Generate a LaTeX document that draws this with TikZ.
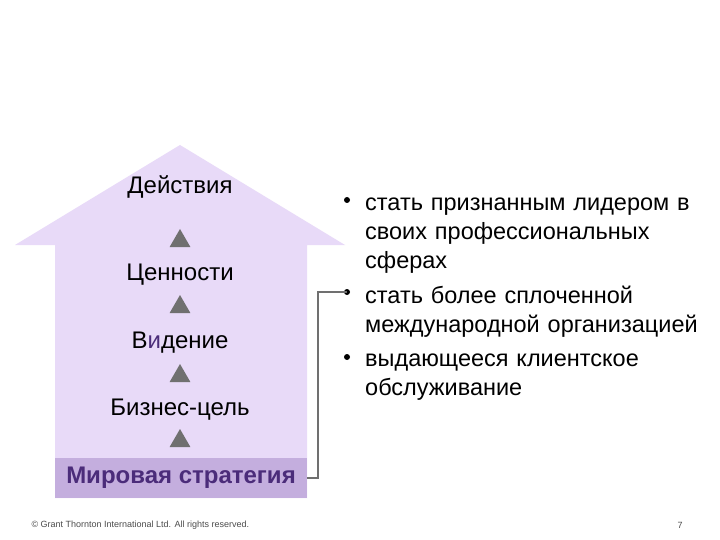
\documentclass[tikz,border=0pt]{standalone}
\usepackage{fontspec}
\usetikzlibrary{shapes.geometric}
\setmainfont{Liberation Sans}
\definecolor{house}{HTML}{E8DAF8}
\definecolor{bar}{HTML}{C4AEDE}
\definecolor{bartext}{HTML}{4B2C7A}
\definecolor{tricol}{HTML}{707070}
\begin{document}
\begin{tikzpicture}[x=1pt,y=-1pt,
  lbl/.style={font=\fontsize{24}{26}\selectfont,anchor=center},
  trimark/.style={fill=tricol,regular polygon,regular polygon sides=3,inner sep=0pt,minimum size=24pt},
  btext/.style={font=\fontsize{23.5}{29}\selectfont,anchor=base west,align=left,text width=360pt,inner sep=0pt}]
\useasboundingbox (0,0) rectangle (720,540);
\fill[white] (0,0) rectangle (720,540);
\fill[house] (180,145) -- (345,245) -- (307,245) -- (307,498) -- (55,498) -- (55,245) -- (15,245) -- cycle;
\node[fill=bar,minimum width=252pt,minimum height=40pt,inner sep=0pt] (bar) at (181,478) {};
\node[lbl,font=\bfseries\fontsize{24}{26}\selectfont,text=bartext] (mir) at (181,478) {Мировая стратегия};
\node[lbl] (d) at (180,187) {Действия};
\node[lbl] (c) at (180,275) {Ценности};
\node[lbl] (v) at (180,343) {В\textcolor{bartext}{и}дение};
\node[lbl] (b) at (180,410) {Бизнес-цель};
\foreach \y/\n in {241/m1,307/m2,376/m3,441/m4} \node[trimark] (\n) at (180,\y) {};
\fill (347,200) circle (3);
\fill (347,357) circle (3);
\coordinate (bul) at (347,292);
\fill (bul) circle (3);
\draw[tricol,line width=1.2pt] (bar.east) -- (318,478) -- (318,292) -- (bul);
\node[btext] (t1) at (365,211) {стать признанным лидером в\\своих профессиональных\\сферах};
\node[btext] (t2) at (365,303) {стать более сплоченной\\международной организацией};
\node[btext] (t3) at (365,366) {выдающееся клиентское\\обслуживание};
\node[font=\fontsize{9}{10}\selectfont,anchor=west,text=black!70] (cp) at (28,525) {© Grant Thornton International Ltd. All rights reserved.};
\node[font=\fontsize{9}{10}\selectfont,text=black!70] (pg) at (680,525) {7};
\end{tikzpicture}
\end{document}
